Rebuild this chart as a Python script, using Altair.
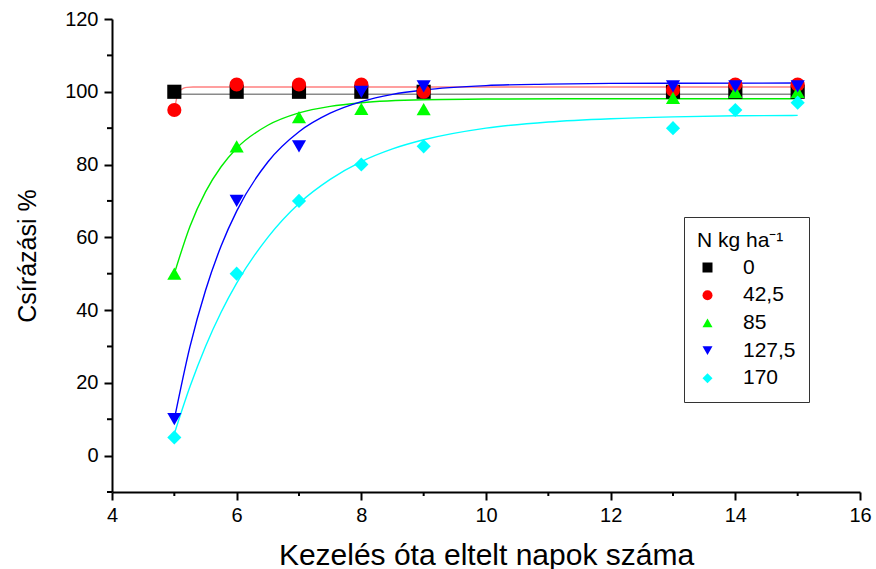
import altair as alt
import pandas as pd

# Measurement days and N dose groups
days = [5, 6, 7, 8, 9, 13, 14, 15]
series_names = ["0", "42,5", "85", "127,5", "\u00a0170"]
series_colors = ["#000000", "#ff0000", "#00ff00", "#0000ff", "#00ffff"]
series_shapes = ["square", "circle", "triangle-up", "triangle-down", "diamond"]
curve_colors = ["#8a8a8a", "#ff8080", "#00ee00", "#0000ff", "#00ffff"]

# Germination % observed per dose
germ_0 = [100, 100, 100, 100, 100, 100, 100, 100]
germ_42 = [95, 102, 102, 102, 100, 100.5, 102, 102]
germ_85 = [50, 85, 93, 95.3, 95.2, 98.3, 100, 100]
germ_127 = [10, 70, 85, 100, 101.5, 101.5, 101.5, 101.5]
germ_170 = [5, 50, 70, 80, 85, 90, 95, 97]

# Fitted saturation curves per dose
fit_days_0 = [5, 15]
fit_0 = [99.3, 99.3]
fit_days_42 = [5, 5.05, 5.1, 5.15, 5.2, 5.3, 5.5, 15]
fit_42 = [95, 99.0, 100.45, 101.0, 101.2, 101.3, 101.3, 101.3]
fit_days_85 = [5, 5.25, 5.5, 5.75, 6, 6.5, 7, 7.5, 8, 9, 10, 12, 15]
fit_85 = [50, 63, 72.5, 79.4, 84.5, 90.8, 94.2, 96.0, 97.0, 97.8, 98.0, 98.1, 98.1]
fit_days_127 = [5, 5.25, 5.5, 5.75, 6, 6.5, 7, 7.5, 8, 8.5, 9, 10, 11, 12, 15]
fit_127 = [10, 29.9, 45.4, 57.6, 67.2, 80.7, 89.0, 94.1, 97.3, 99.3, 100.5, 101.7, 102.1, 102.3, 102.4]
fit_days_170 = [5, 5.25, 5.5, 5.75, 6, 6.5, 7, 7.5, 8, 8.5, 9, 10, 11, 12, 13, 14, 15]
fit_170 = [6.0, 18.9, 30.0, 39.4, 47.4, 60.0, 69.3, 75.9, 80.8, 84.3, 86.8, 90.0, 91.7, 92.6, 93.1, 93.4, 93.5]

# Axis tick positions
x_major_ticks = [4, 6, 8, 10, 12, 14, 16]
x_minor_ticks = [5, 7, 9, 11, 13, 15]
y_major_ticks = [0, 20, 40, 60, 80, 100, 120]
y_minor_ticks = [-10, 10, 30, 50, 70, 90, 110]

observed = [germ_0, germ_42, germ_85, germ_127, germ_170]
fitted = [
    (fit_days_0, fit_0),
    (fit_days_42, fit_42),
    (fit_days_85, fit_85),
    (fit_days_127, fit_127),
    (fit_days_170, fit_170),
]

points = pd.DataFrame(
    [
        {"dose": name, "day": d, "value": v}
        for name, vals in zip(series_names, observed)
        for d, v in zip(days, vals)
    ]
)
curves = pd.DataFrame(
    [
        {"dose": name, "stroke": col, "day": d, "value": v}
        for name, col, (xs, ys) in zip(series_names, curve_colors, fitted)
        for d, v in zip(xs, ys)
    ]
)
x_minor = pd.DataFrame({"day": x_minor_ticks})
y_minor = pd.DataFrame({"value": y_minor_ticks})

FONT = "Liberation Sans"
W, H = 748, 473

x_scale = alt.Scale(domain=[4, 16], nice=False, zero=False)
y_scale = alt.Scale(domain=[-10, 120], nice=False, zero=False)
color_scale = alt.Scale(domain=series_names, range=series_colors)
shape_scale = alt.Scale(domain=series_names, range=series_shapes)

x_axis = alt.Axis(
    values=x_major_ticks,
    format="d",
    tickSize=8,
    labelOverlap=False,
    labelFlush=False,
    grid=False,
    domainColor="black",
    domainWidth=2,
    tickColor="black",
    tickWidth=2,
    labelFont=FONT,
    labelFontSize=20,
    labelColor="black",
    labelPadding=5,
    title="Kezelés óta eltelt napok száma",
    titleFont=FONT,
    titleFontSize=30,
    titleFontWeight="normal",
    titleColor="black",
    titleX=W / 2,
    titleY=72,
    titleAlign="center",
    titleBaseline="alphabetic",
)

y_axis = alt.Axis(
    values=y_major_ticks,
    format="d",
    tickSize=8,
    labelOverlap=False,
    labelFlush=False,
    grid=False,
    domainColor="black",
    domainWidth=2,
    tickColor="black",
    tickWidth=2,
    labelFont=FONT,
    labelFontSize=20,
    labelColor="black",
    labelPadding=6,
    title="Csírázási %",
    titleFont=FONT,
    titleFontSize=25,
    titleFontWeight="normal",
    titleColor="black",
    titleX=-85,
    titleY=H / 2,
    titleAngle=-90,
    titleAlign="center",
    titleBaseline="middle",
)

legend = alt.Legend(
    title="N kg ha\u207b\u00b9",
    orient="none",
    legendX=572,
    legendY=198,
    strokeColor="#333333",
    padding=13,
    titleFont=FONT,
    titleFontSize=21,
    titleFontWeight="normal",
    titleColor="black",
    titlePadding=6,
    labelFont=FONT,
    labelFontSize=21,
    labelColor="black",
    labelOffset=25,
    symbolSize=100,
    symbolStrokeWidth=0,
    rowPadding=5.7,
)

# Fitted curves, each drawn in its own colour taken straight from the data
lines = (
    alt.Chart(curves)
    .mark_line(interpolate="monotone", strokeWidth=1.4)
    .encode(
        x=alt.X("day:Q", scale=x_scale, axis=x_axis),
        y=alt.Y("value:Q", scale=y_scale, axis=y_axis),
        stroke=alt.Stroke("stroke:N", scale=None),
        detail="dose:N",
        order="day:Q",
    )
)

markers = (
    alt.Chart(points)
    .mark_point(filled=True, opacity=1, size=200)
    .encode(
        x=alt.X("day:Q", scale=x_scale),
        y=alt.Y("value:Q", scale=y_scale),
        color=alt.Color("dose:N", scale=color_scale, legend=legend),
        shape=alt.Shape("dose:N", scale=shape_scale, legend=legend),
    )
)

# Short minor ticks on both axes
x_minor_rules = (
    alt.Chart(x_minor)
    .mark_rule(color="black", strokeWidth=2)
    .encode(
        x=alt.X("day:Q", scale=x_scale),
        y=alt.value(H),
        y2=alt.value(H + 4),
    )
)
y_minor_rules = (
    alt.Chart(y_minor)
    .mark_rule(color="black", strokeWidth=2)
    .encode(
        y=alt.Y("value:Q", scale=y_scale),
        x=alt.value(-5),
        x2=alt.value(0),
    )
)

chart = (
    alt.layer(lines, markers, x_minor_rules, y_minor_rules)
    .properties(
        width=W,
        height=H,
        padding={"left": 112, "top": 19, "right": 16, "bottom": 77},
        autosize=alt.AutoSizeParams(type="none"),
        background="white",
    )
    .configure_view(stroke=None)
)

chart.save("out.html", embed_options={"renderer": "svg", "actions": False})
